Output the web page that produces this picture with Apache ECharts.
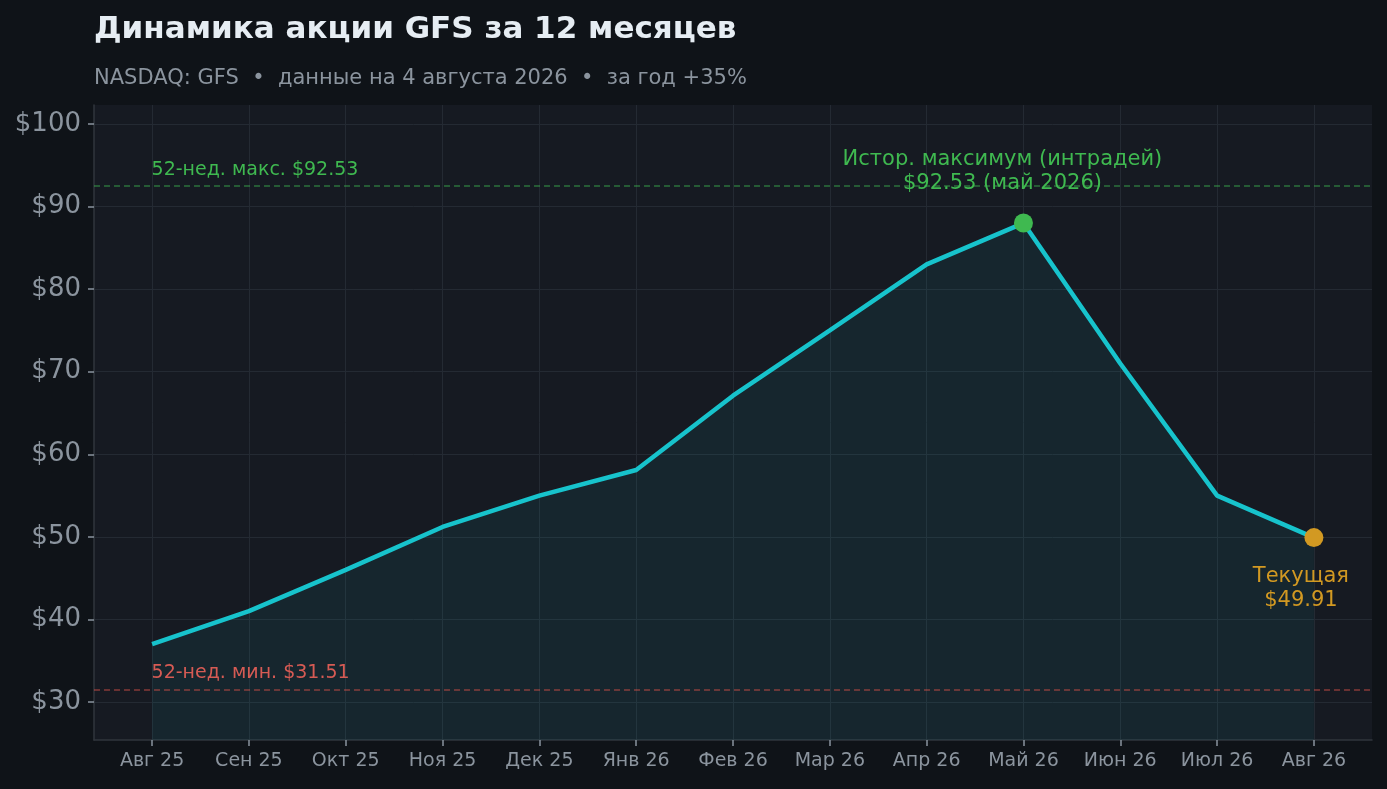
<!DOCTYPE html>
<html>
<head>
<meta charset="utf-8">
<script src="https://cdn.jsdelivr.net/npm/echarts@6/dist/echarts.min.js"></script>
<style>
  html, body { margin: 0; padding: 0; background: #0f1318; }
  #chart { width: 1387px; height: 789px; }
</style>
</head>
<body>
<div id="chart"></div>
<script>
const months = ['Авг 25','Сен 25','Окт 25','Ноя 25','Дек 25','Янв 26','Фев 26','Мар 26','Апр 26','Май 26','Июн 26','Июл 26','Авг 26'];
const prices = [37, 41, 46, 51.2, 55, 58.1, 67.1, 75, 83, 88, 71, 55, 49.91];
const yTicks = [30, 40, 50, 60, 70, 80, 90, 100];
const high52 = 92.53;
const low52 = 31.51;
const athIndex = 9;
const athLabel = 'Истор. максимум (интрадей)\n$92.53 (май 2026)';
const currentIndex = 12;
const currentLabel = 'Текущая\n$49.91';
const highLabel = '52-нед. макс. $92.53';
const lowLabel = '52-нед. мин. $31.51';

const FONT = 'DejaVu Sans';
const chart = echarts.init(document.getElementById('chart'));
const xIdx = months.map((m, i) => i);

chart.setOption({
  backgroundColor: '#0f1318',
  animation: false,
  textStyle: { fontFamily: FONT },
  title: [
    { text: 'Динамика акции GFS за 12 месяцев', left: 89, top: 9,
      textStyle: { fontFamily: FONT, fontSize: 31, fontWeight: 'bold', color: '#e6edf3' } },
    { text: 'NASDAQ: GFS  •  данные на 4 августа 2026  •  за год +35%', left: 89, top: 63,
      textStyle: { fontFamily: FONT, fontSize: 21, fontWeight: 'normal', color: '#8b949e' } }
  ],
  grid: { left: 94, right: 15, top: 105, bottom: 49, show: true, backgroundColor: '#161a22', borderWidth: 0 },
  xAxis: {
    type: 'value', min: -0.6, max: 12.6,
    axisLine: { onZero: false, lineStyle: { color: '#30363d', width: 1.5 } },
    axisTick: { show: true, customValues: xIdx, length: 6, lineStyle: { color: '#8b949e', width: 1.5 } },
    axisLabel: { customValues: xIdx, formatter: v => months[Math.round(v)] || '', color: '#8b949e',
      fontSize: 19, fontFamily: FONT, margin: 12 },
    splitLine: { show: true, lineStyle: { color: '#242a33', width: 1 } }
  },
  yAxis: {
    type: 'value', min: 25.4, max: 102.3,
    axisLine: { show: true, onZero: false, lineStyle: { color: '#30363d', width: 1.5 } },
    axisTick: { show: true, customValues: yTicks, length: 6, lineStyle: { color: '#8b949e', width: 1.5 } },
    axisLabel: { customValues: yTicks, formatter: v => '$' + v, color: '#8b949e', fontSize: 26, fontFamily: FONT, margin: 13 },
    splitLine: { show: true, lineStyle: { color: '#242a33', width: 1 } }
  },
  series: [
    {
      type: 'line',
      data: prices.map((p, i) => [i, p]),
      symbol: 'none',
      lineStyle: { color: '#17c3cc', width: 4.5 },
      areaStyle: { color: 'rgba(30,200,210,0.1)', origin: 'start' },
      z: 3,
      markLine: {
        silent: true, symbol: 'none',
        label: { show: false },
        data: [
          { yAxis: high52, lineStyle: { color: 'rgba(63,185,80,0.55)', type: [6, 4], width: 1.5 } },
          { yAxis: low52, lineStyle: { color: 'rgba(229,83,75,0.55)', type: [6, 4], width: 1.5 } }
        ]
      }
    },
    {
      type: 'scatter',
      symbolSize: 1,
      itemStyle: { color: 'rgba(0,0,0,0)', opacity: 1 },
      silent: true,
      z: 2,
      data: [
        { value: [0, high52], label: { show: true, formatter: highLabel, position: [0, -6], align: 'left', verticalAlign: 'bottom',
          color: '#3fb950', fontSize: 19, fontFamily: FONT } },
        { value: [0, low52], label: { show: true, formatter: lowLabel, position: [0, -6], align: 'left', verticalAlign: 'bottom',
          color: '#e5534b', fontSize: 19, fontFamily: FONT } }
      ]
    },
    {
      type: 'scatter',
      symbolSize: 19,
      silent: true,
      z: 5,
      data: [
        { value: [athIndex, prices[athIndex]], itemStyle: { color: '#3fb950', opacity: 1 },
          label: { show: true, formatter: athLabel, position: 'top', distance: 18, offset: [-21, 0],
            color: '#3fb950', fontSize: 21, lineHeight: 24, fontFamily: FONT, align: 'center' } },
        { value: [currentIndex, prices[currentIndex]], itemStyle: { color: '#d29922', opacity: 1 },
          label: { show: true, formatter: currentLabel, position: 'bottom', distance: 17, offset: [-13, 0],
            color: '#d29922', fontSize: 21, lineHeight: 24, fontFamily: FONT, align: 'center' } }
      ]
    }
  ]
});
</script>
</body>
</html>
